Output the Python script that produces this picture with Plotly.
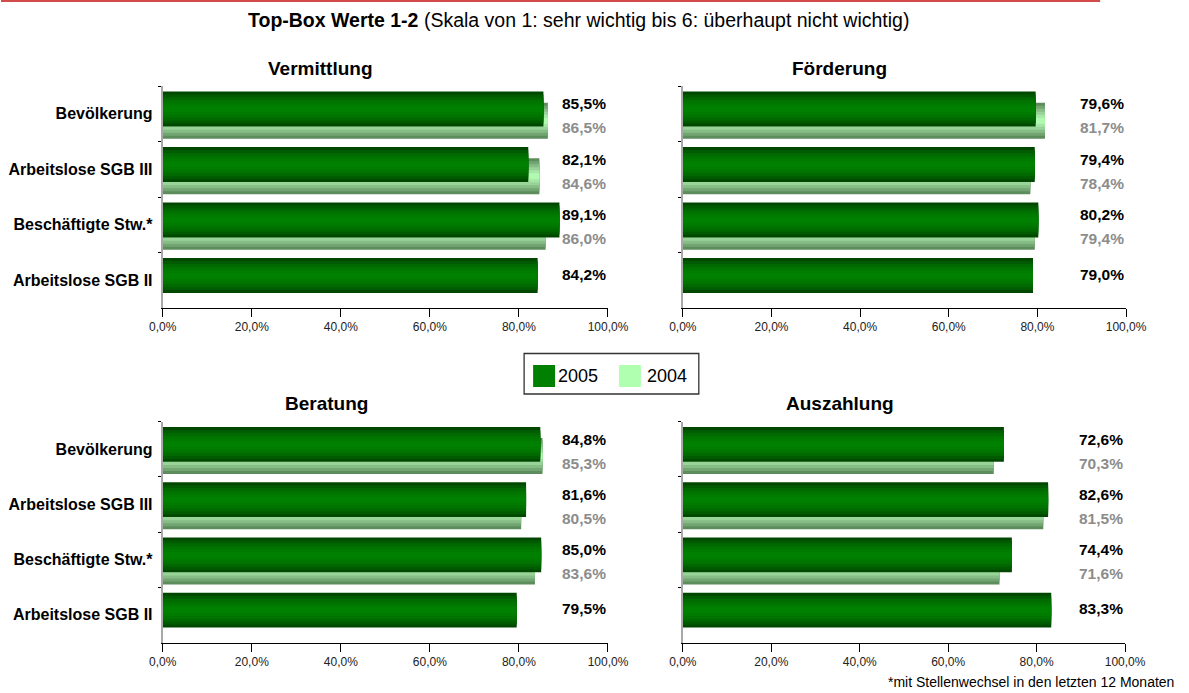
import plotly.graph_objects as go

W, H = 1189, 693
# drawing frame of the page (left offset and usable width of the plot surface)
FRAME_X0, FRAME_W = 13, 1156

categories = ["Bevölkerung", "Arbeitslose SGB III", "Beschäftigte Stw.*", "Arbeitslose SGB II"]
panel_titles = ["Vermittlung", "Förderung", "Beratung", "Auszahlung"]
years = ["2005", "2004"]

vermittlung_2005 = [85.5, 82.1, 89.1, 84.2]
vermittlung_2004 = [86.5, 84.6, 86.0, None]
foerderung_2005 = [79.6, 79.4, 80.2, 79.0]
foerderung_2004 = [81.7, 78.4, 79.4, None]
beratung_2005 = [84.8, 81.6, 85.0, 79.5]
beratung_2004 = [85.3, 80.5, 83.6, None]
auszahlung_2005 = [72.6, 82.6, 74.4, 83.3]
auszahlung_2004 = [70.3, 81.5, 71.6, None]

x_ticks = [0, 20, 40, 60, 80, 100]
x_tick_labels = ["0,0%", "20,0%", "40,0%", "60,0%", "80,0%", "100,0%"]

title_bold = "Top-Box Werte 1-2"
title_rest = " (Skala von 1: sehr wichtig bis 6: überhaupt nicht wichtig)"
footnote = "*mit Stellenwechsel in den letzten 12 Monaten"

FONT = "Liberation Sans, Arial, sans-serif"

# cylinder-like shading: outer ring first, lightest core last
SHADES_2005 = ["#004800", "#005a00", "#006900", "#007300", "#007b00", "#008000"]
SHADES_2004 = ["#5d8c5d", "#72a572", "#86bd86", "#98d398", "#a6e6a6", "#b0fab0"]
LEGEND_COLORS = {"2005": "#008000", "2004": "#b0ffb0"}


def px_x(p):
    return (p - FRAME_X0) / FRAME_W


def px_y(p):
    return 1 - p / H


# panel layout in pixels: x range of plot area, y range of plot area, title centre
panels = [
    (panel_titles[0], vermittlung_2005, vermittlung_2004, (162, 608), (86, 308), (320, 68), True),
    (panel_titles[1], foerderung_2005, foerderung_2004, (683, 1127), (86, 308), (840, 68), False),
    (panel_titles[2], beratung_2005, beratung_2004, (162, 608), (421.5, 642.5), (326, 403), True),
    (panel_titles[3], auszahlung_2005, auszahlung_2004, (683, 1126), (421.5, 642.5), (840, 403), False),
]

fig = go.Figure()
annotations = []
shapes = []


def add_cylinder(values, sfx, offset, width, shades, name):
    n = len(shades)
    for k, color in enumerate(shades):
        w = width * (n - k) / n
        fig.add_trace(go.Bar(
            y=categories, x=values, orientation="h",
            offset=offset + (width - w) / 2, width=w,
            marker=dict(color=color, line=dict(width=0)),
            xaxis=f"x{sfx}", yaxis=f"y{sfx}",
            name=name, showlegend=False,
            hoverinfo="x+y+name" if k == 0 else "skip",
        ))


layout_axes = {}
for i, (ptitle, v05, v04, (x0, x1), (y0, y1), (tx, ty), show_labels) in enumerate(panels, start=1):
    sfx = "" if i == 1 else str(i)
    add_cylinder(v04, sfx, -0.20, 0.65, SHADES_2004, years[1])
    add_cylinder(v05, sfx, -0.40, 0.63, SHADES_2005, years[0])

    layout_axes[f"xaxis{sfx}"] = dict(
        domain=[px_x(x0), px_x(x1)], anchor=f"y{sfx}", range=[0, 100],
        tickvals=x_ticks, ticktext=x_tick_labels,
        showgrid=False, zeroline=False, showline=True, linecolor="#000000", linewidth=1,
        ticks="outside", ticklen=8, tickcolor="#000000", tickwidth=1,
        tickfont=dict(family=FONT, size=12, color="#222222"),
    )
    layout_axes[f"yaxis{sfx}"] = dict(
        domain=[px_y(y1), px_y(y0)], anchor=f"x{sfx}", type="category",
        autorange="reversed", categoryorder="array", categoryarray=categories,
        showgrid=False, zeroline=False, showline=True, linecolor="#a8a8a8", linewidth=2,
        tickson="boundaries", ticks="outside", ticklen=3, tickcolor="#000000",
        showticklabels=show_labels,
        tickfont=dict(family=FONT, size=16, color="#000000", weight="bold"),
        ticklabelstandoff=5,
    )

    annotations.append(dict(
        xref="paper", yref="paper", x=px_x(tx), y=px_y(ty), text=f"<b>{ptitle}</b>",
        showarrow=False, xanchor="center", yanchor="middle",
        font=dict(family=FONT, size=19, color="#000000"),
    ))

    for cat, a, b in zip(categories, v05, v04):
        annotations.append(dict(
            xref=f"x{sfx} domain", yref=f"y{sfx}", x=1.0, y=cat,
            text=f"<b>{a:.1f}%</b>".replace(".", ","),
            showarrow=False, xanchor="right", yanchor="middle",
            yshift=10 if b is not None else 6,
            font=dict(family=FONT, size=15.5, color="#000000"),
        ))
        if b is not None:
            annotations.append(dict(
                xref=f"x{sfx} domain", yref=f"y{sfx}", x=1.0, y=cat,
                text=f"<b>{b:.1f}%</b>".replace(".", ","),
                showarrow=False, xanchor="right", yanchor="middle", yshift=-14,
                font=dict(family=FONT, size=15.5, color="#8c8c8c"),
            ))

# heading
annotations.append(dict(
    xref="paper", yref="paper", x=px_x(578), y=px_y(20),
    text=f"<b>{title_bold}</b>{title_rest}", showarrow=False,
    xanchor="center", yanchor="middle", font=dict(family=FONT, size=19.5, color="#000000"),
))
# footnote
annotations.append(dict(
    xref="paper", yref="paper", x=px_x(1177), y=px_y(682),
    text=footnote, showarrow=False, xanchor="right", yanchor="middle",
    font=dict(family=FONT, size=14, color="#000000"),
))

# legend box between the panels
shapes.append(dict(type="rect", xref="paper", yref="paper",
                   x0=px_x(524), x1=px_x(699), y0=px_y(394), y1=px_y(353.5),
                   line=dict(color="#333333", width=1.3), fillcolor="#ffffff"))
for year, sx, tx in [(years[0], 533, 556), (years[1], 619, 645)]:
    shapes.append(dict(type="rect", xref="paper", yref="paper",
                       x0=px_x(sx), x1=px_x(sx + 22), y0=px_y(387), y1=px_y(365),
                       line=dict(width=0), fillcolor=LEGEND_COLORS[year]))
    annotations.append(dict(
        xref="paper", yref="paper", x=px_x(tx), y=px_y(376), text=year,
        showarrow=False, xanchor="left", yanchor="middle",
        font=dict(family=FONT, size=18, color="#000000"),
    ))

# red rule along the top edge
shapes.append(dict(type="line", xref="paper", yref="paper",
                   x0=px_x(0), x1=px_x(1101), y0=px_y(1), y1=px_y(1),
                   line=dict(color="#d24a4a", width=2)))

fig.update_layout(
    width=W, height=H,
    margin=dict(l=0, r=0, t=0, b=0),
    paper_bgcolor="#ffffff", plot_bgcolor="#ffffff",
    barmode="overlay", showlegend=False,
    font=dict(family=FONT),
    annotations=annotations, shapes=shapes,
    **layout_axes,
)

fig.write_html("out.html")
